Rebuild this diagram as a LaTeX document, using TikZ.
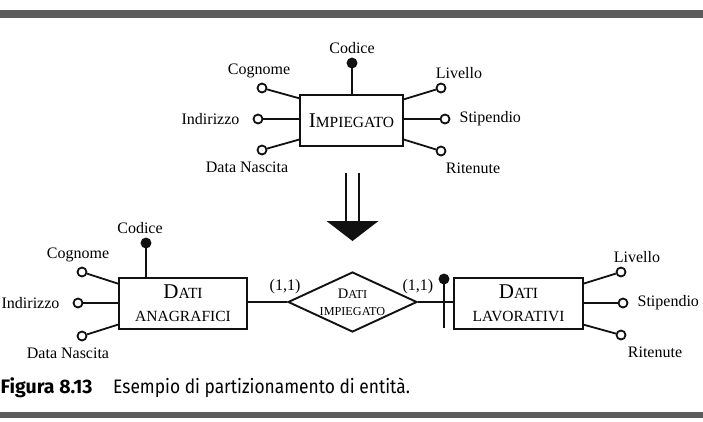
\documentclass[tikz,border=0pt]{standalone}
\usepackage{fontspec}
\setmainfont{Liberation Serif}
\newfontfamily\capfont[FakeStretch=0.89]{Fira Sans}
\newfontfamily\capnumfont{Fira Sans}
\usepackage{xcolor}
\definecolor{cInk}{HTML}{111111}
\definecolor{cBand}{HTML}{5C5C5C}
\usepackage{tikz}
\usetikzlibrary{positioning,shapes.geometric,calc}
% nomi in maiuscoletto finto: iniziale grande, resto maiuscolo piccolo
\newcommand\entcap[2]{{\fontsize{21}{21}\selectfont #1}#2}
\newcommand\relcap[2]{{\fontsize{14.5}{14.5}\selectfont #1}#2}
\tikzset{
  er-entity/.style={draw=cInk,line width=1.9pt,rectangle,minimum height=51pt,
    inner sep=0pt,align=center,font=\fontsize{15.5}{23}\selectfont},
  er-relation/.style={draw=cInk,line width=1.9pt,diamond,aspect=2.15,
    minimum width=129pt,minimum height=60pt,inner sep=0pt,align=center,
    font=\fontsize{12.2}{17}\selectfont},
  er-attr/.style={draw=cInk,line width=1.8pt,circle,fill=white,
    minimum size=9pt,inner sep=0pt},
  er-key/.style={er-attr,fill=cInk},
  er-label/.style={inner sep=1pt,font=\fontsize{16}{16}\selectfont},
  er-card/.style={inner sep=1pt,font=\fontsize{16}{16}\selectfont},
  er-link/.style={draw=cInk,line width=1.8pt},
  band/.style={fill=cBand},
  cap-num/.style={inner sep=0pt,font=\capnumfont\bfseries\fontsize{19.5}{19.5}\selectfont},
  cap-text/.style={inner sep=0pt,font=\capfont\fontsize{19.5}{19.5}\selectfont},
}
\begin{document}
\begin{tikzpicture}[x=1pt,y=1pt]
  \useasboundingbox (0,0) rectangle (703,-421);
  \fill[band] (0,-9.5) rectangle (703,-17.5);
  \fill[band] (0,-412) rectangle (703,-417.5);

  % schema di partenza
  \node[er-entity,minimum width=103pt] (imp) at (351.5,-120.5) {\entcap{I}{MPIEGATO}};
  \node[er-key] (imp-cod) at (352,-63) {};
  \node[er-label,above=3pt of imp-cod] {Codice};
  \node[er-attr] (imp-cog) at (262,-88) {};
  \node[er-label,above=3pt of imp-cog,xshift=-3pt] {Cognome};
  \node[er-attr] (imp-ind) at (258,-119) {};
  \node[er-label,left=12pt of imp-ind] {Indirizzo};
  \node[er-attr] (imp-dat) at (262,-150) {};
  \node[er-label,below=5pt of imp-dat,xshift=-15pt] {Data Nascita};
  \node[er-attr] (imp-liv) at (441,-88) {};
  \node[er-label,above=3pt of imp-liv,xshift=18pt] {Livello};
  \node[er-attr] (imp-sti) at (445,-119) {};
  \node[er-label,right=8pt of imp-sti] {Stipendio};
  \node[er-attr] (imp-rit) at (441,-151) {};
  \node[er-label,below=5pt of imp-rit,xshift=32pt] {Ritenute};
  \draw[er-link] (imp-cod) -- (imp.north -| imp-cod);
  \draw[er-link] (imp-cog) -- (imp.157);
  \draw[er-link] (imp-ind) -- (imp.west |- imp-ind);
  \draw[er-link] (imp-dat) -- (imp.200);
  \draw[er-link] (imp-liv) -- (imp.22);
  \draw[er-link] (imp-sti) -- (imp.east |- imp-sti);
  \draw[er-link] (imp-rit) -- (imp.340);

  % freccia di trasformazione
  \draw[er-link] (346,-173) -- (346,-222);
  \draw[er-link] (359,-173) -- (359,-222);
  \fill[cInk] (326.5,-221) -- (378.5,-221) -- (352.5,-241) -- cycle;

  % schema partizionato
  \node[er-entity,minimum width=128pt] (ana) at (183,-303.5)
    {\entcap{D}{ATI}\\ANAGRAFICI};
  \node[er-relation] (rel) at (352.5,-302) {\relcap{D}{ATI}\\IMPIEGATO};
  \node[er-entity,minimum width=129pt] (lav) at (518.5,-303.5)
    {\entcap{D}{ATI}\\LAVORATIVI};

  \node[er-key] (ana-cod) at (146,-243) {};
  \node[er-label,above=3pt of ana-cod,xshift=-6pt] {Codice};
  \node[er-attr] (ana-cog) at (82,-272) {};
  \node[er-label,above=3pt of ana-cog,xshift=-4pt] {Cognome};
  \node[er-attr] (ana-ind) at (78,-303) {};
  \node[er-label,left=12pt of ana-ind] {Indirizzo};
  \node[er-attr] (ana-dat) at (82,-336) {};
  \node[er-label,below=5pt of ana-dat,xshift=-14pt] {Data Nascita};
  \draw[er-link] (ana-cod) -- (ana.north -| ana-cod);
  \draw[er-link] (ana-cog) -- (ana.163);
  \draw[er-link] (ana-ind) -- (ana.west |- ana-ind);
  \draw[er-link] (ana-dat) -- (ana.198);

  \node[er-attr] (lav-liv) at (621,-272) {};
  \node[er-label,above=3pt of lav-liv,xshift=16pt] {Livello};
  \node[er-attr] (lav-sti) at (623,-303) {};
  \node[er-label,right=8pt of lav-sti] {Stipendio};
  \node[er-attr] (lav-rit) at (621,-335) {};
  \node[er-label,below=5pt of lav-rit,xshift=34pt] {Ritenute};
  \draw[er-link] (lav-liv) -- (lav.17);
  \draw[er-link] (lav-sti) -- (lav.east |- lav-sti);
  \draw[er-link] (lav-rit) -- (lav.342);

  \draw[er-link] (ana.east |- rel.west) -- (rel.west);
  \draw[er-link] (rel.east) -- (lav.west |- rel.east);
  \node[er-card,above=7pt of rel.west,xshift=-2pt] {(1,1)};
  \node[er-card,above=7pt of rel.east] {(1,1)};

  % identificatore esterno
  \node[er-key] (lav-ext) at (444,-279) {};
  \coordinate (lav-ext-end) at (444,-328);
  \draw[er-link] (lav-ext) -- (lav-ext-end);

  % didascalia
  \node[cap-num,anchor=base west] (fig-num) at (0.5,-393) {Figura 8.13};
  \node[cap-text,anchor=base west] (fig-text) at (113,-393)
    {Esempio di partizionamento di entità.};
\end{tikzpicture}
\end{document}
